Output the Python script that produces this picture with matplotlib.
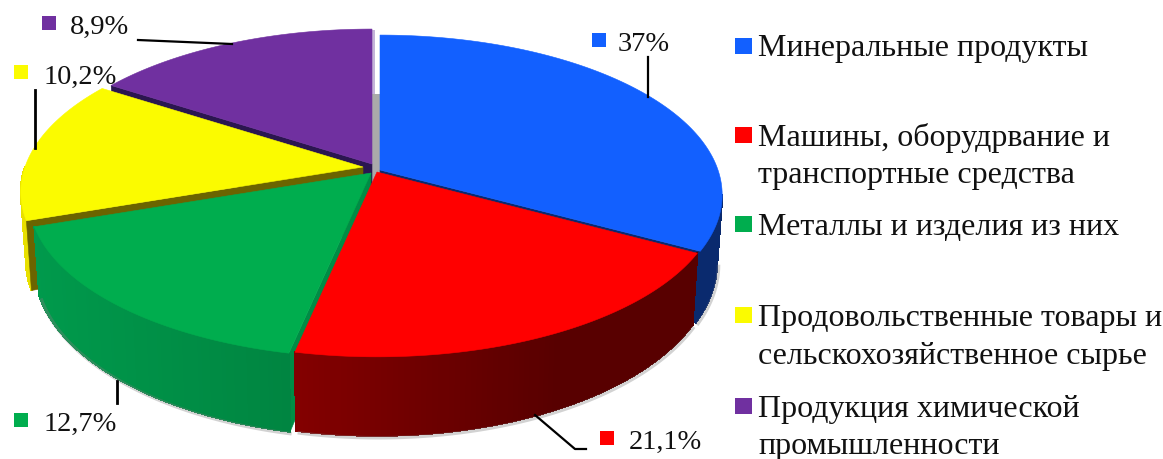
import numpy as np
import matplotlib
matplotlib.use('Agg')
import matplotlib.pyplot as plt
from matplotlib.patches import Polygon, Rectangle

plt.rcParams['font.family'] = ['Liberation Serif', 'DejaVu Serif']

# data
categories = ['Минеральные продукты',
              'Машины, оборудрвание и\nтранспортные средства',
              'Металлы и изделия из них',
              'Продовольственные товары и\nсельскохозяйственное сырье',
              'Продукция химической\nпромышленности']
value_labels = ['37%', '21,1%', '12,7%', '10,2%', '8,9%']
# the drawn slices do not follow the labels, so their shares are read separately
slice_shares = [33.0, 20.3, 16.4, 14.5, 15.8]
colors = ['#1260ff', '#ff0000', '#00ad4e', '#fbfb00', '#7030a0']

# apex of each slice in pixels
apex = [(380, 170), (377, 172), (371, 173), (363, 167), (372, 164)]
# side colours, light (left) to dark (right)
side_left = ['#0a2a6e', '#b00000', '#009a4c', '#e8e000', '#2b1650']
side_right = ['#0a2a6e', '#580000', '#006f35', '#e8e000', '#2b1650']
radial_side = ['#0a2a6e', '#580000', '#008c45', '#6b6400', '#2b1650']

A, B, k = 156, 338, 0.156
depth = 66


def top(c, t):
    s = 1 + k * np.sin(t)
    return c[0] + B * np.cos(t) / s, c[1] - A * np.sin(t) / s


def bottom(c, t):
    x, y = top(c, t)
    return c[0] + 0.985 * (x - c[0]), c[1] + 1.07 * (y - c[1]) + depth


def hex2rgb(h):
    return np.array(matplotlib.colors.to_rgb(h))


def draw_top(i):
    t = np.linspace(t_start[i], t_end[i], 120)
    x, y = top(apex[i], t)
    pts = np.r_[[apex[i]], np.c_[x, y]]
    ax.add_patch(Polygon(pts, fc=colors[i], ec=colors[i], lw=0.4))


def draw_radial(i, a):
    c = apex[i]
    pts = [top(c, a), bottom(c, a), (c[0], c[1] + depth), c]
    ax.add_patch(Polygon(pts, fc=radial_side[i], ec=radial_side[i], lw=0.4))


def draw_outer(i, t0, t1):
    edges = np.linspace(t0, t1, 90)
    xmin, xmax = 30, 560
    for a, b in zip(edges[:-1], edges[1:]):
        p = [top(apex[i], a), top(apex[i], b), bottom(apex[i], b), bottom(apex[i], a)]
        f = np.clip((p[0][0] - xmin) / (xmax - xmin), 0, 1)
        col = hex2rgb(side_left[i]) * (1 - f) + hex2rgb(side_right[i]) * f
        ax.add_patch(Polygon(p, fc=col, ec=col, lw=0.8, antialiased=False))


def draw_shadow(i, t0, t1):
    t = np.linspace(t0, t1, 120)
    x, y = bottom(apex[i], t)
    ax.plot(x + 1.5, y + 2, color='#808080', lw=2.5, alpha=0.35, solid_capstyle='butt')


fig = plt.figure(figsize=(11.63, 4.59), dpi=100)
ax = fig.add_axes([0, 0, 1, 1])
ax.set_xlim(0, 1163)
ax.set_ylim(459, 0)
ax.axis('off')

# slice angles, clockwise from the top
spans = np.deg2rad(np.array(slice_shares) / sum(slice_shares) * 360)
t_start = np.pi / 2 - np.r_[0, np.cumsum(spans)[:-1]]
t_end = t_start - spans

# gap between purple and blue
ax.add_patch(Rectangle((372, 30), 3, 66, fc='#c4b4d8', ec='none'))
ax.add_patch(Rectangle((372, 94), 8, 94, fc='#aaaaaa', ec='none'))

# back to front
draw_radial(4, t_start[4])
draw_top(4)

draw_outer(3, -np.pi, t_start[3])
draw_radial(3, t_start[3])
draw_top(3)

draw_shadow(2, t_start[2], t_end[2])
draw_radial(2, t_start[2])
draw_outer(2, t_start[2], t_end[2])
draw_top(2)

rim_edge = -np.arcsin(k)
draw_shadow(0, t_end[0], rim_edge)
draw_radial(0, t_end[0])
draw_outer(0, t_end[0], rim_edge)
draw_top(0)

draw_shadow(1, t_start[1], t_end[1])
draw_outer(1, t_start[1], t_end[1])
draw_top(1)

# leader lines
lw_lead = 1.6
ax.plot([138, 232], [40, 44], color='k', lw=lw_lead)
ax.plot([35, 35], [90, 148], color='k', lw=2)
ax.plot([117, 117], [381, 403], color='k', lw=2)
ax.plot([535, 575, 586], [415, 449, 449], color='k', lw=lw_lead)
ax.plot([648, 648], [57, 97], color='k', lw=lw_lead)

# value labels with their small squares
label_square_x = [592, 600, 14, 14, 42]
label_square_y = [33, 431, 413, 65, 16]
label_text_x = [618, 629, 44, 44, 70]
label_base_y = [51, 449, 431, 84, 34]
for i, txt in enumerate(value_labels):
    ax.add_patch(Rectangle((label_square_x[i], label_square_y[i]), 14, 14, fc=colors[i], ec='none'))
    ax.text(label_text_x[i], label_base_y[i], txt, fontsize=20.5, color='#111111',
            va='baseline', ha='left')

# legend
legend_top = [38, 127, 216, 307, 398]
line_base_y = [[56], [146, 183], [235], [326, 364], [417, 454]]
for i, txt in enumerate(categories):
    ax.add_patch(Rectangle((735, legend_top[i]), 17, 16, fc=colors[i], ec='none'))
    for line, base in zip(txt.split('\n'), line_base_y[i]):
        ax.text(758, base, line, fontsize=23, color='#111111', va='baseline', ha='left')

fig.savefig('out.png', dpi=100)
